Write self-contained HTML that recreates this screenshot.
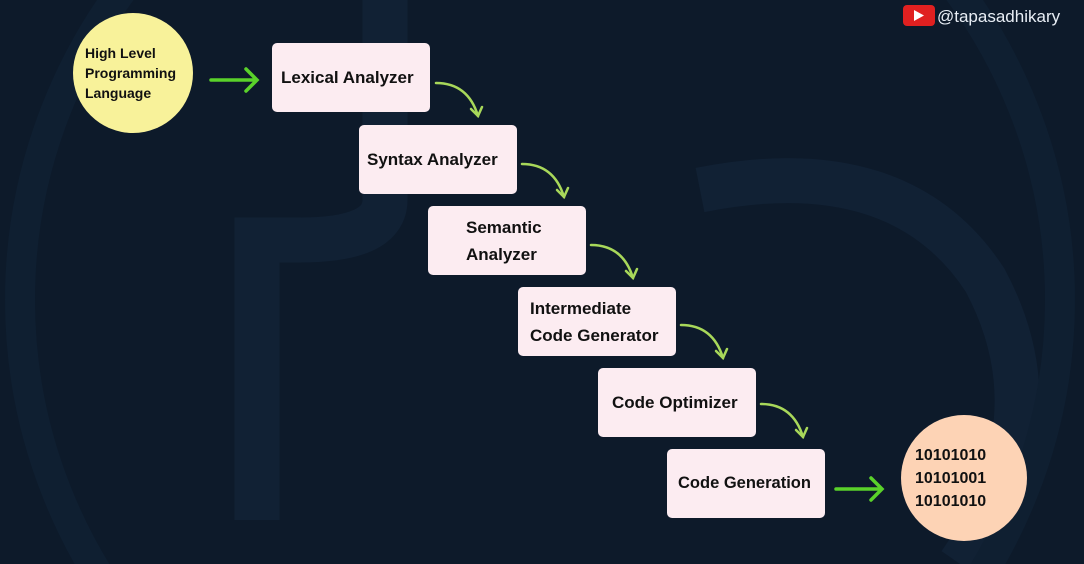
<!DOCTYPE html>
<html><head><meta charset="utf-8"><style>
html,body{margin:0;padding:0;background:#0d1a2a;width:1084px;height:564px;overflow:hidden;}
body{position:relative;font-family:"Liberation Sans",sans-serif;}
.box{position:absolute;width:158px;height:69px;background:#fcecf1;border-radius:5px;display:flex;align-items:center;font-weight:bold;font-size:17px;color:#111;box-sizing:border-box;line-height:27px;white-space:nowrap;}
.c{position:absolute;border-radius:50%;display:flex;align-items:center;font-weight:bold;color:#111;white-space:nowrap;}
</style></head><body>
<svg width="1084" height="564" style="position:absolute;left:0;top:0;display:block">
<g fill="none" stroke="#112134" stroke-width="45">
<path d="M385 0 L385 200 Q385 240 300 240 L257 240 L257 520"/>
<path d="M700 190 Q900 150 985 280 Q1060 420 960 564"/>
</g>
<circle cx="540" cy="300" r="520" fill="none" stroke="#0f1f31" stroke-width="30"/>
<g fill="none" stroke="#a8d85a" stroke-width="2.5" stroke-linecap="round">
<path d="M436 83 Q468 83 478 116"/><path d="M471 109 L478 116 L482 107"/>
<path d="M522 164 Q554 164 564 197"/><path d="M557 190 L564 197 L568 188"/>
<path d="M591 245 Q623 245 633 278"/><path d="M626 271 L633 278 L637 269"/>
<path d="M681 325 Q713 325 723 358"/><path d="M716 351 L723 358 L727 349"/>
<path d="M761 404 Q793 404 803 437"/><path d="M796 430 L803 437 L807 428"/>
</g>
<g fill="none" stroke="#5ad22a" stroke-width="3.5" stroke-linecap="round">
<path d="M211 80 L256 80 M246 69 L257 80 L246 91"/>
<path d="M836 489 L881 489 M871 478 L882 489 L871 500"/>
</g>
<rect x="903" y="5" width="32" height="21" rx="4" fill="#e02020"/>
<path d="M914 10 L924 15.5 L914 21Z" fill="#fff"/>
<text x="937" y="22" fill="#e8eef5" font-size="17" font-family="Liberation Sans, sans-serif">@tapasadhikary</text>
</svg>
<div class="c" style="left:73px;top:13px;width:120px;height:120px;background:#f8f29a;font-size:14px;line-height:20px;padding-left:12px;box-sizing:border-box;">High Level<br>Programming<br>Language</div>
<div class="box" style="left:272px;top:43px;padding-left:9px;">Lexical Analyzer</div>
<div class="box" style="left:359px;top:125px;padding-left:8px;">Syntax Analyzer</div>
<div class="box" style="left:428px;top:206px;padding-left:38px;">Semantic<br>Analyzer</div>
<div class="box" style="left:518px;top:287px;padding-left:12px;">Intermediate<br>Code Generator</div>
<div class="box" style="left:598px;top:368px;padding-left:14px;">Code Optimizer</div>
<div class="box" style="left:667px;top:449px;padding-left:11px;font-size:16.5px;">Code Generation</div>
<div class="c" style="left:901px;top:415px;width:126px;height:126px;background:#fdd3b5;font-size:16px;line-height:23px;padding-left:14px;box-sizing:border-box;">10101010<br>10101001<br>10101010</div>
</body></html>
